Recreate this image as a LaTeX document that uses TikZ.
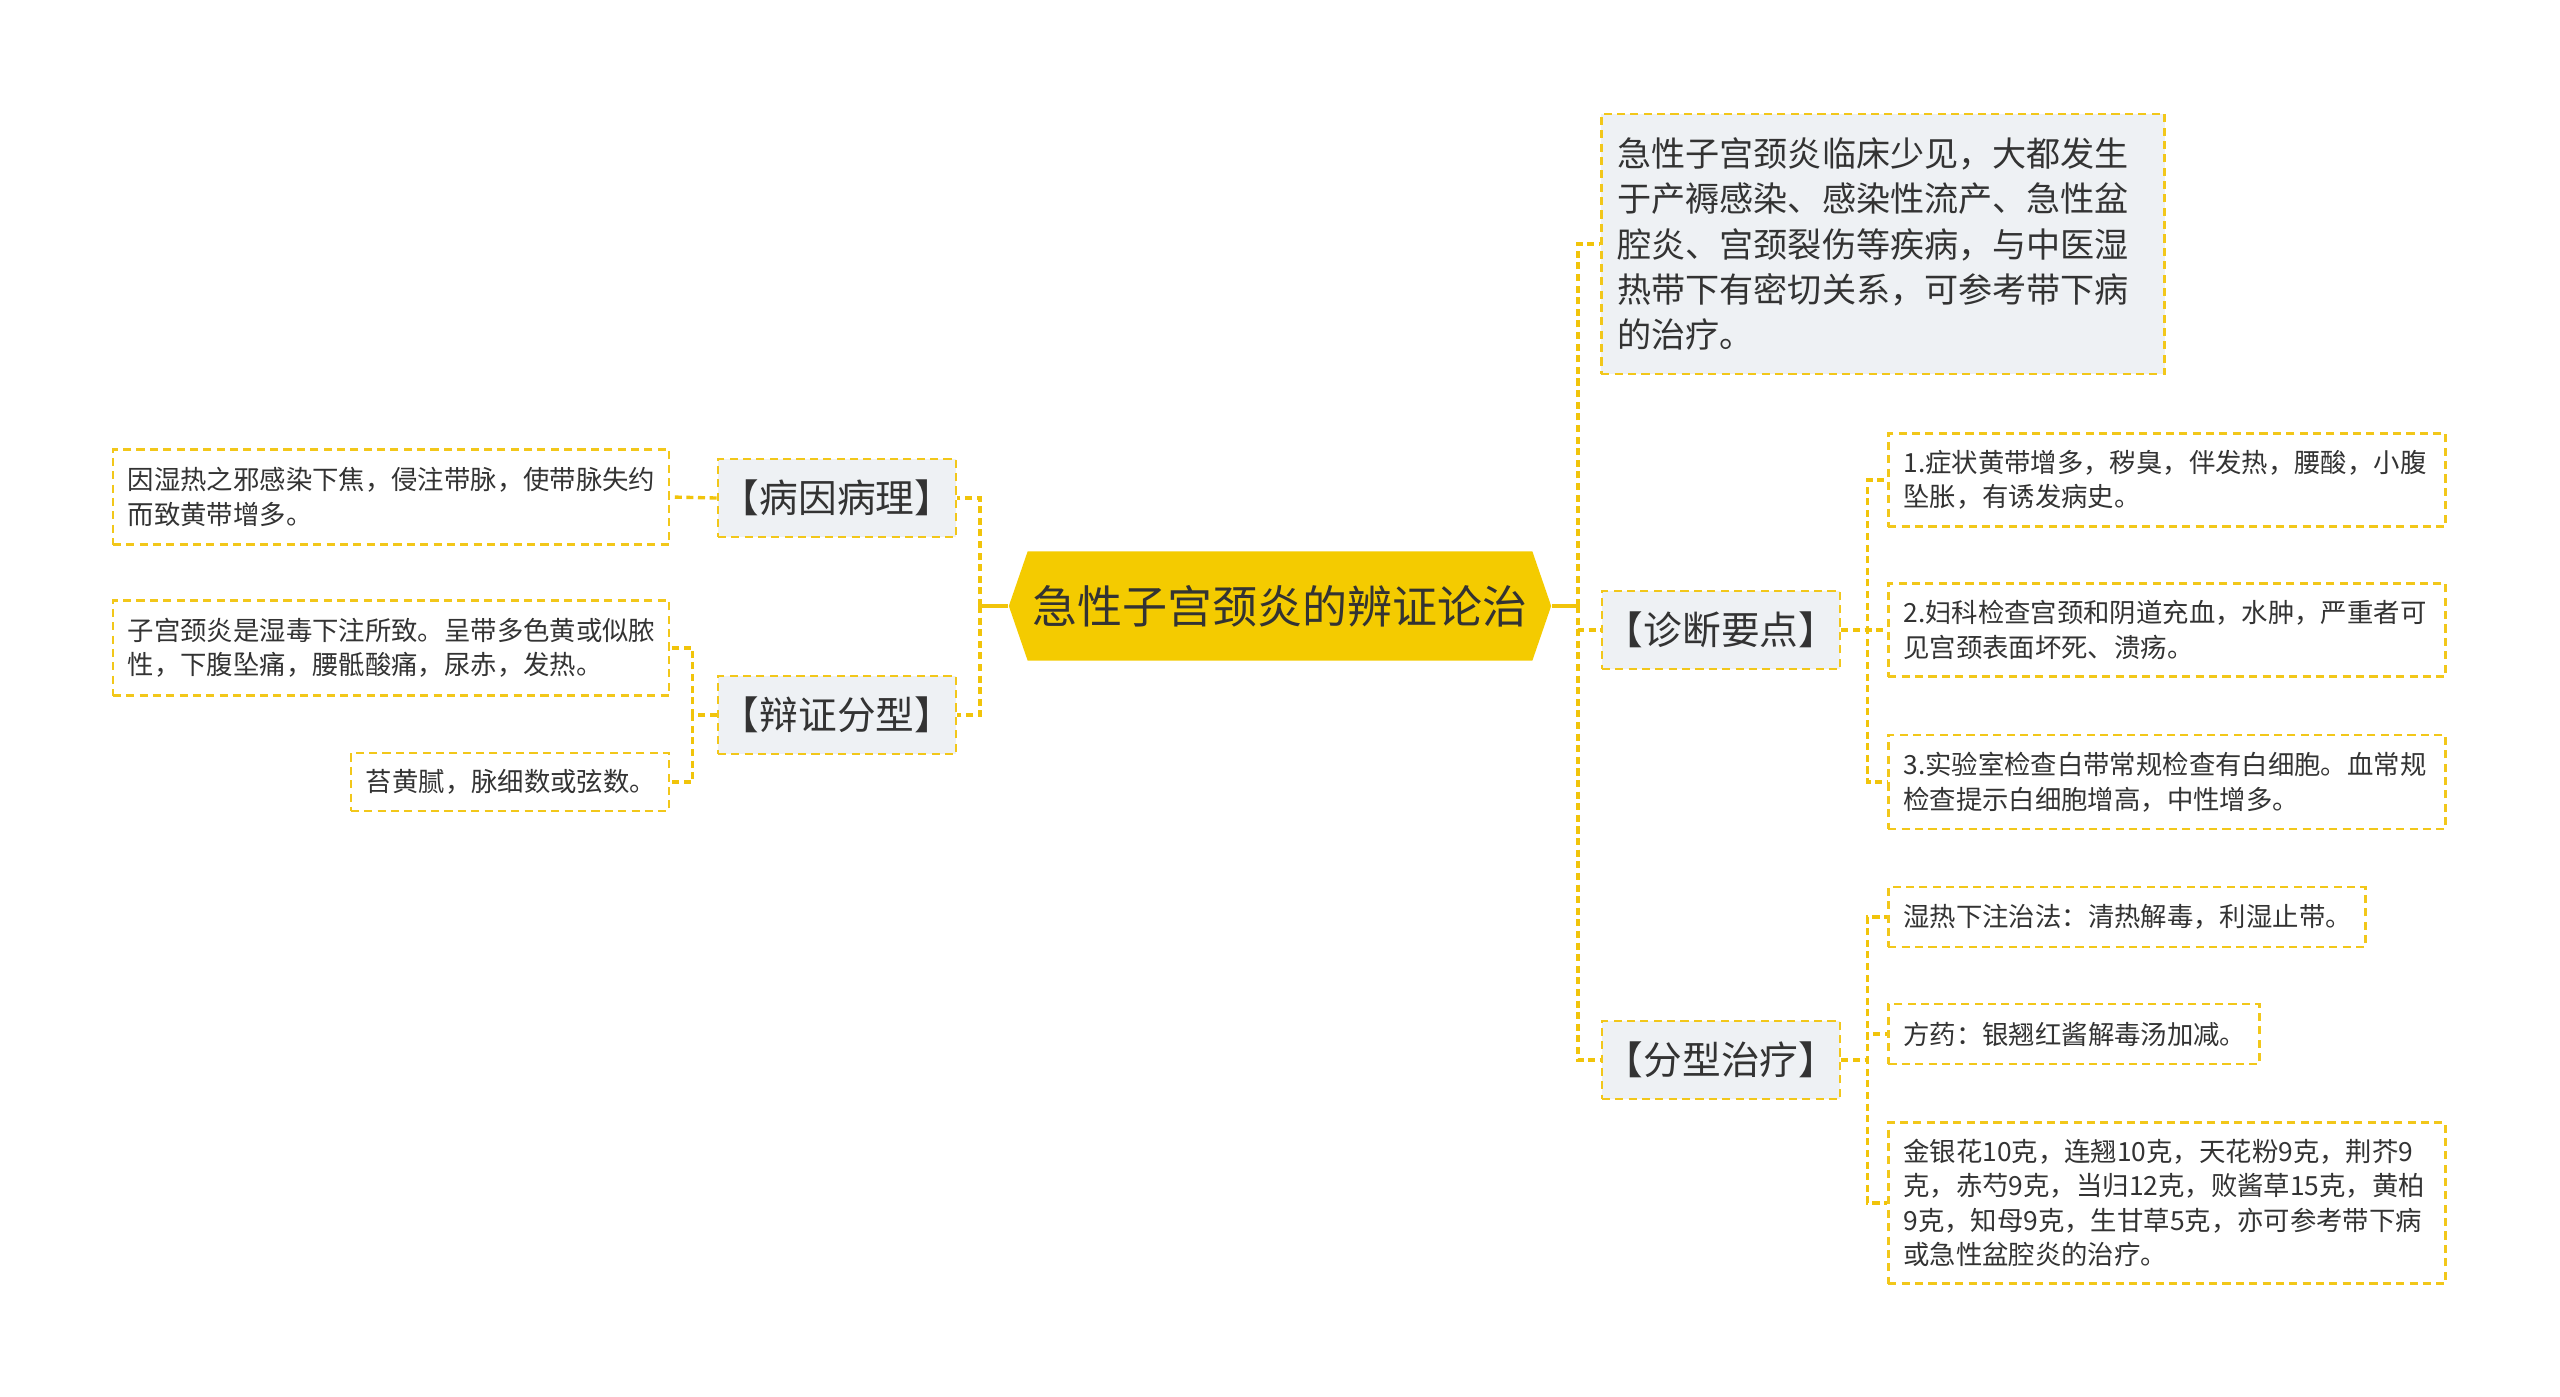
\documentclass[tikz,border=0pt]{standalone}
\usepackage{fontspec}
\setmainfont{Noto Sans CJK SC}
\usetikzlibrary{positioning, shapes.symbols, calc}
\definecolor{mmYellow}{HTML}{F4CB00}
\definecolor{mmLine}{HTML}{F2C71A}
\definecolor{mmLink}{HTML}{F1C40A}
\definecolor{mmGray}{HTML}{EEF1F4}
\definecolor{mmText}{HTML}{333333}

\begin{document}
\begin{tikzpicture}[x=0.01cm, y=-0.01cm,
    rootTopic/.style={signal, signal to=west and east, signal pointer angle=142, fill=mmYellow, draw=none, text=mmText, font=\fontsize{12.8}{15}\selectfont, minimum width=5.42cm, minimum height=1.09cm, inner sep=0pt},
    groupBox/.style={draw=mmLine, line width=0.75pt, dash pattern=on 2.3pt off 1.5pt, rectangle, fill=mmGray, text=mmText, align=center, font=\fontsize{11}{14}\selectfont, minimum width=2.38cm, minimum height=0.78cm, inner sep=0pt},
    introBox/.style={draw=mmLine, line width=0.75pt, dash pattern=on 2.3pt off 1.5pt, rectangle, fill=mmGray, text=mmText, align=left, font=\fontsize{9.7}{12.9}\selectfont, inner xsep=0.16cm, inner ysep=0pt},
    leafBox/.style={draw=mmLine, line width=0.75pt, dash pattern=on 2.3pt off 1.5pt, rectangle, fill=white, text=mmText, align=left, font=\fontsize{7.5}{9.8}\selectfont, inner xsep=0.15cm, inner ysep=0pt},
    link/.style={draw=mmLink, line width=0.95pt, dash pattern=on 2pt off 1.3pt},
    rootLink/.style={draw=mmLink, line width=0.95pt},
]
\fill[white] (0,0) rectangle (2560,1397);
\useasboundingbox (0,0) rectangle (2560,1397);

\node[rootTopic] (root) at (1280, 606) {急性子宫颈炎的辨证论治};

\node[groupBox] (cause)   at (837, 498) {【病因病理】};
\node[groupBox] (pattern) at (837, 715) {【辩证分型】};
\node[leafBox, text width=5.26cm, minimum height=0.95cm] (causeText) at (391, 497) {因湿热之邪感染下焦，侵注带脉，使带脉失约\\而致黄带增多。};
\node[leafBox, text width=5.26cm, minimum height=0.95cm] (patText) at (391, 648) {子宫颈炎是湿毒下注所致。呈带多色黄或似脓\\性，下腹坠痛，腰骶酸痛，尿赤，发热。};
\node[leafBox, text width=2.88cm, minimum height=0.58cm] (pulseText) at (510, 782) {苔黄腻，脉细数或弦数。};

\node[introBox, text width=5.31cm, minimum height=2.60cm] (intro) at (1883, 244) {急性子宫颈炎临床少见，大都发生\\于产褥感染、感染性流产、急性盆\\腔炎、宫颈裂伤等疾病，与中医湿\\热带下有密切关系，可参考带下病\\的治疗。};
\node[groupBox] (diag)  at (1721, 630) {【诊断要点】};
\node[groupBox] (treat) at (1721, 1060) {【分型治疗】};

\node[leafBox, text width=5.27cm, minimum height=0.93cm] (diagA) at (2167, 480) {1.症状黄带增多，秽臭，伴发热，腰酸，小腹\\坠胀，有诱发病史。};
\node[leafBox, text width=5.27cm, minimum height=0.93cm] (diagB) at (2167, 630) {2.妇科检查宫颈和阴道充血，水肿，严重者可\\见宫颈表面坏死、溃疡。};
\node[leafBox, text width=5.27cm, minimum height=0.94cm] (diagC) at (2167, 782) {3.实验室检查白带常规检查有白细胞。血常规\\检查提示白细胞增高，中性增多。};

\node[leafBox, text width=4.47cm, minimum height=0.60cm] (treatA) at (2127, 917) {湿热下注治法：清热解毒，利湿止带。};
\node[leafBox, text width=3.41cm, minimum height=0.60cm] (treatB) at (2074, 1034) {方药：银翘红酱解毒汤加减。};
\node[leafBox, text width=5.27cm, minimum height=1.61cm] (treatC) at (2167, 1203) {金银花10克，连翘10克，天花粉9克，荆芥9\\克，赤芍9克，当归12克，败酱草15克，黄柏\\9克，知母9克，生甘草5克，亦可参考带下病\\或急性盆腔炎的治疗。};

\draw[rootLink] (root.west) -- ++(-28,0) coordinate (leftHub);
\draw[link] (leftHub) |- (cause.east);
\draw[link] (leftHub) |- (pattern.east);
\draw[link] (cause.west) -- (causeText.east);
\draw[link] (pattern.west) -- ++(-24,0) |- (patText.east);
\draw[link] (pattern.west) -- ++(-24,0) |- (pulseText.east);

\draw[rootLink] (root.east) -- ++(26,0) coordinate (rightHub);
\draw[link] (rightHub) |- (intro.west);
\draw[link] (rightHub) |- (diag.west);
\draw[link] (rightHub) |- (treat.west);
\draw[link] (diag.east) -- ++(26,0) |- (diagA.west);
\draw[link] (diag.east) -- ++(26,0) |- (diagB.west);
\draw[link] (diag.east) -- ++(26,0) |- (diagC.west);
\draw[link] (treat.east) -- ++(26,0) |- (treatA.west);
\draw[link] (treat.east) -- ++(26,0) |- (treatB.west);
\draw[link] (treat.east) -- ++(26,0) |- (treatC.west);
\end{tikzpicture}
\end{document}
